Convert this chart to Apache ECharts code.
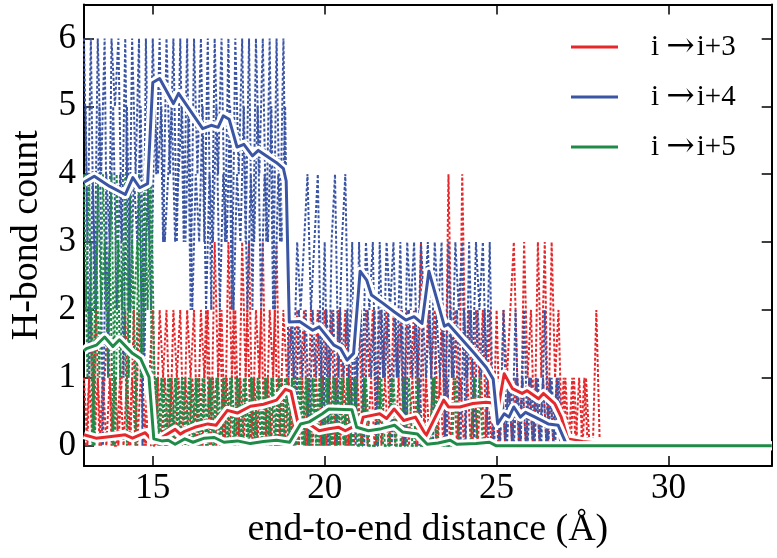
<!DOCTYPE html>
<html><head><meta charset="utf-8">
<script src="https://cdn.jsdelivr.net/npm/echarts@6/dist/echarts.min.js"></script>
<style>html,body{margin:0;padding:0;background:#fff}#c{width:777px;height:558px}</style>
</head><body><div id="c"></div>
<script>
// raw per-frame H-bond counts: trace A sampled every 0.1 Å from 13.00 Å, trace B every 0.1 Å from 13.05 Å
const rawStartA = 13.0, rawStartB = 13.05, rawStep = 0.1;
const rawBlueA = [
  6,3,6,2,6,4,6,1,6,5, 6,3,6,2,6,4,6,0,6,3,
  6,4,6,3,6,4,6,3,6,3, 6,2,6,4,6,3,6,2,6,4,
  6,3,6,2,6,4,6,3,6,2, 6,4,6,3,6,2,6,3,6,2,
  3,1,3,2,3,4,2,3,4,1, 3,0,3,4,1,3,4,1,3,0,
  3,1,3,2,3,0,3,1,3,2, 3,1,3,0,3,2,3,1,3,2,
  3,1,3,2,3,0,3,1,3,2, 3,0,3,1,3,2,3,1,3,0,
  1,0,2,0,1,0,1,0,2,0, 1,0,1,0,2,0,1,0,1,0,
  0,0,0,0,0,0,0,0,0,0, 0];
const rawBlueB = [
  5,1,4,2,5,0,4,3,5,2, 4,1,5,2,4,3,5,1,4,2,
  5,4,5,3,4,5,3,4,5,3, 5,2,4,3,5,2,4,3,5,2,
  4,3,5,2,4,3,5,2,4,3, 5,2,4,3,5,2,4,3,5,1,
  2,0,2,1,2,0,2,1,2,0, 2,1,2,0,2,1,2,0,2,1,
  2,0,2,1,2,0,2,1,2,0, 2,1,2,0,2,1,2,0,2,1,
  2,0,2,1,2,0,2,1,2,0, 2,1,2,0,2,1,2,0,1,0,
  0,1,0,1,0,2,0,1,0,1, 0,1,0,1,0,1,0,1,0,0,
  0,0,0,0,0,0,0,0,0,0];
const rawRedA = [
  1,0,2,0,1,0,1,2,0,1, 0,1,2,0,1,0,2,1,0,1,
  2,0,2,1,2,0,2,1,2,0, 2,1,2,0,2,1,2,0,3,1,
  2,0,3,1,2,0,3,1,3,0, 2,1,3,0,2,1,3,0,2,1,
  2,0,2,1,2,0,2,1,2,0, 2,1,2,0,2,1,2,0,2,1,
  2,0,2,1,2,0,2,1,2,0, 2,1,2,0,2,1,2,0,3,0,
  2,1,2,0,2,0,4,1,2,0, 4,1,2,0,2,1,2,0,2,0,
  2,0,2,1,2,3,1,0,3,1, 2,0,3,1,3,0,3,1,2,0,
  1,0,1,0,1,0,1,0,0,2, 0];
const rawRedB = [
  0,1,0,2,0,1,0,1,0,0, 1,0,1,0,2,0,1,0,1,0,
  0,1,0,1,0,1,0,1,0,1, 0,1,0,1,0,2,0,1,0,2,
  0,1,0,2,0,1,0,2,0,1, 0,2,0,1,0,2,0,1,0,1,
  0,1,0,1,0,1,0,1,0,1, 0,1,0,1,0,1,0,1,0,1,
  0,1,0,1,0,1,0,1,0,1, 0,1,0,1,0,1,0,1,0,1,
  0,1,0,1,0,1,0,1,0,1, 0,1,0,1,0,1,0,1,0,1,
  0,1,0,1,0,1,0,1,0,1, 0,1,0,1,0,1,0,1,0,1,
  0,0,1,0,0,1,0,0,0,0];
const rawGreenA = [
  4,1,3,0,4,2,3,1,4,0, 3,2,4,1,3,0,4,1,3,4,
  0,1,0,1,0,1,0,1,0,1, 0,1,0,1,0,1,0,1,0,1,
  0,1,0,1,0,1,0,1,0,1, 0,1,0,1,0,1,0,1,0,1,
  0,1,0,1,0,1,0,1,0,1, 0,1,0,1,0,1,0,1,0,1,
  0,0,1,0,0,0,1,0,0,0, 1,0,0,1,0,0,0,1,0,0,
  0,0,1,0,0,0,0,0,1,0, 0,0,0,0,0,1,0,0,0,0,
  0,0,0,0,0,0,0,0,0,0, 0,0,0,0,0,0,0,0,0,0,
  0,0,0,0,0,0,0,0,0,0, 0];
const rawGreenB = [
  2,4,0,3,1,4,2,3,0,4, 1,3,0,4,2,3,1,4,2,4,
  1,0,1,0,1,0,1,0,1,0, 1,0,1,0,1,0,1,0,1,0,
  1,0,1,0,1,0,1,0,1,0, 1,0,1,0,1,0,1,0,1,0,
  1,0,1,0,1,0,1,0,1,0, 1,0,1,0,1,0,1,0,1,0,
  0,1,0,0,0,0,1,0,0,1, 0,0,0,0,1,0,0,0,0,0,
  0,1,0,0,0,0,0,0,0,0, 0,0,0,1,0,0,0,0,0,0,
  0,0,0,0,0,0,0,0,0,0, 0,0,0,0,0,0,0,0,0,0,
  0,0,0,0,0,0,0,0,0,0];

// running averages
const redSX = [13.0,13.35,13.73,14.2,14.41,14.78,14.98,15.26,15.65,15.8,15.93,16.22,16.6,16.84,17.17,17.46,17.84,18.22,18.6,18.86,19.02,19.22,19.55,19.84,20.12,20.41,20.6,20.79,21.03,21.12,21.6,21.8,22.02,22.3,22.64,22.95,23.46,23.6,23.93,24.31,24.69,24.88,24.98,25.22,25.46,25.74,25.89,26.22,26.36,26.69,26.88,27.07,27.5,27.93,28.2,33];
const redSY = [0.16,0.11,0.13,0.16,0.11,0.19,0.08,0.12,0.24,0.17,0.21,0.27,0.32,0.30,0.52,0.48,0.58,0.61,0.67,0.83,0.80,0.34,0.32,0.22,0.25,0.27,0.22,0.27,0.25,0.42,0.47,0.40,0.54,0.37,0.42,0.15,0.67,0.57,0.57,0.62,0.64,0.63,0.37,1.06,0.84,0.77,0.81,0.69,0.77,0.62,0.42,0.10,0.06,0.04,0,0];
const blueSX = [13.0,13.3,13.75,14.2,14.42,14.62,14.85,15.0,15.2,15.6,15.75,16.45,16.7,16.9,17.05,17.22,17.45,17.65,17.9,18.07,18.6,18.8,18.88,18.97,19.27,19.65,19.84,20.27,20.46,20.65,20.84,21.03,21.22,21.36,21.69,22.03,22.36,22.6,22.83,23.03,23.31,23.48,23.6,23.93,24.35,24.7,24.9,25.03,25.22,25.36,25.5,25.69,25.84,26.12,26.5,26.79,27.03,27.3,33];
const blueSY = [3.88,3.97,3.82,3.70,3.95,3.80,3.86,5.35,5.41,5.04,5.19,4.67,4.72,4.69,4.86,4.81,4.40,4.44,4.27,4.35,4.17,4.08,3.9,1.82,1.83,1.70,1.75,1.48,1.43,1.26,1.36,2.57,2.44,2.22,2.10,1.97,1.85,1.90,1.80,2.57,2.07,1.76,1.79,1.60,1.36,1.15,0.98,0.32,0.47,0.42,0.57,0.42,0.49,0.42,0.32,0.30,0.02,0,0];
const greenSX = [13.0,13.07,13.36,13.6,13.84,14.03,14.41,14.65,14.89,15.03,15.26,15.45,15.65,15.93,16.17,16.5,16.79,17.07,17.46,17.84,18.22,18.6,18.98,19.3,19.55,19.93,20.12,20.79,20.93,21.27,21.65,22.03,22.27,22.7,22.98,23.3,23.65,23.84,24.4,24.79,24.98,33];
const greenSY = [1.40,1.43,1.48,1.60,1.46,1.56,1.36,1.28,1.01,0.10,0.07,0.08,0.02,0.10,0.05,0.11,0.12,0.05,0.07,0.03,0.06,0.08,0.05,0.32,0.35,0.47,0.54,0.53,0.27,0.22,0.25,0.30,0.20,0.17,0.02,0.04,0.08,0.02,0.03,0.05,0,0];

const names = ['i \u2192i+3', 'i \u2192i+4', 'i \u2192i+5'];
const colors = ['#e4282b', '#3a55a4', '#208a48'];
const FONT = 'Liberation Serif';

function rawPairs(arr, start){ return arr.map((v,i)=>[+(start + i*rawStep).toFixed(2), v]); }
function zip(xs, ys){ return xs.map((x,i)=>[x, ys[i]]); }

const rawSets = [
  [rawRedA, rawStartA, 0], [rawRedB, rawStartB, 0],
  [rawBlueA, rawStartA, 1], [rawBlueB, rawStartB, 1],
  [rawGreenA, rawStartA, 2], [rawGreenB, rawStartB, 2]
];
const smooth = [[redSX, redSY],[blueSX, blueSY],[greenSX, greenSY]];
const series = [];
rawSets.forEach((r, j)=>{
  series.push({type:'line', name:'raw'+j, data: rawPairs(r[0], r[1]), symbol:'none', z:2,
    lineStyle:{color:colors[r[2]], width:2, type:[3,2]}, silent:true});
});
[0,1,2].forEach(k=>{
  const d = zip(smooth[k][0], smooth[k][1]);
  series.push({type:'line', name:'halo'+k, data:d, symbol:'none', z:3,
    lineStyle:{color:'#ffffff', width:9, join:'round'}, silent:true});
  series.push({type:'line', name:names[k], data:d, symbol:'none', z:3, color:colors[k],
    lineStyle:{color:colors[k], width:3, join:'round'}});
});

const axisCommon = {
  axisLine:{show:true, onZero:false, lineStyle:{color:'#000', width:2}},
  axisTick:{show:true, inside:true, length:10, lineStyle:{color:'#000', width:1.5}},
  splitLine:{show:false}
};

const chart = echarts.init(document.getElementById('c'), null, {renderer:'canvas'});
chart.setOption({
  animation:false,
  backgroundColor:'#fff',
  grid:{left:71, right:5.3, top:4.5, bottom:92, containLabel:false},
  legend:{orient:'vertical', left:571, top:30, padding:0, itemWidth:47, itemHeight:3, itemGap:16,
    icon:'rect', data:names, selectedMode:false,
    formatter: function(n){ const p = n.split('\u2192'); return '{t|' + p[0] + '}{a|\u2192}{t|' + p[1] + '}'; },
    textStyle:{fontFamily:FONT, fontSize:29, lineHeight:30, color:'#000', padding:[0,0,0,28],
      rich:{t:{fontFamily:FONT, fontSize:29, lineHeight:30, color:'#000'},
            a:{fontFamily:'DejaVu Serif', fontSize:34, lineHeight:30, color:'#000', padding:[0,2,0,0]}}}},
  xAxis:[
    Object.assign({type:'value', min:13, max:33, splitNumber:4, minInterval:5, maxInterval:5, position:'bottom',
      axisLabel:{fontFamily:FONT, fontSize:35, color:'#000', margin:5, showMinLabel:false, showMaxLabel:false},
      name:'end-to-end distance (\u00C5)', nameLocation:'middle', nameGap:43,
      nameTextStyle:{fontFamily:FONT, fontSize:38, color:'#000'}}, axisCommon),
    Object.assign({type:'value', min:13, max:33, splitNumber:4, minInterval:5, maxInterval:5, position:'top',
      axisLabel:{show:false}}, axisCommon)
  ],
  yAxis:[
    Object.assign({type:'value', min:-0.3, max:6.5, splitNumber:7, minInterval:1, maxInterval:1, position:'left',
      axisLabel:{fontFamily:FONT, fontSize:35, color:'#000', margin:8, showMinLabel:false, showMaxLabel:false},
      name:'H-bond count', nameLocation:'middle', nameGap:38,
      nameTextStyle:{fontFamily:FONT, fontSize:38, color:'#000'}}, axisCommon),
    Object.assign({type:'value', min:-0.3, max:6.5, splitNumber:7, minInterval:1, maxInterval:1, position:'right',
      axisLabel:{show:false}}, axisCommon)
  ],
  series: series
});
</script></body></html>
